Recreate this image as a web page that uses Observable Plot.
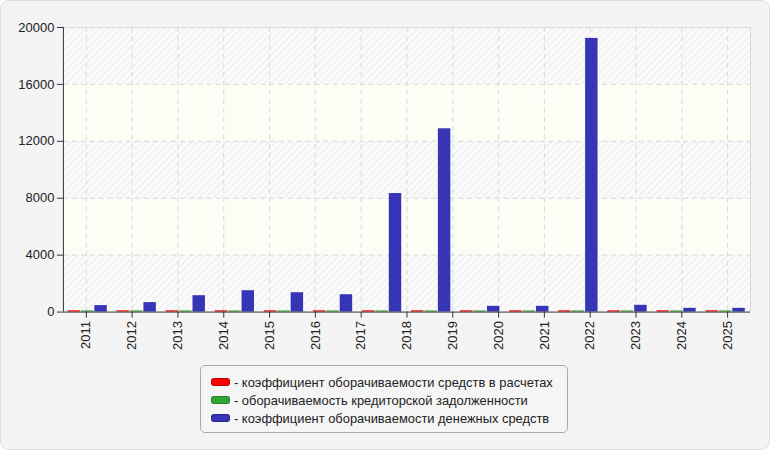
<!DOCTYPE html>
<html><head><meta charset="utf-8">
<script src="https://cdn.jsdelivr.net/npm/d3@7"></script>
<script src="https://cdn.jsdelivr.net/npm/@observablehq/plot@0.6"></script>
<style>
html,body{margin:0;padding:0;background:#fff;}
#card{position:relative;width:770px;height:450px;box-sizing:border-box;background:#f4f4f4;border:1px solid #dedede;border-radius:9px;overflow:hidden;font-family:Arial,"Liberation Sans",sans-serif;}
#chart{position:absolute;left:-1px;top:-1px;}
#legend{position:absolute;left:199px;top:364px;width:368px;height:68px;box-sizing:border-box;border:1px solid #a9a9a9;border-radius:5px;background:#f5f5f5;padding-top:7px;}
.row{display:flex;align-items:center;height:18px;font-size:12.9px;color:#222;padding-left:10px;white-space:nowrap;}
.sw{display:inline-block;width:17px;height:6px;border-radius:3px;margin-right:4px;border:1px solid rgba(0,0,0,0.25);}
</style></head>
<body>
<svg width="0" height="0" style="position:absolute">
  <defs>
    <pattern id="hatch" patternUnits="userSpaceOnUse" width="5" height="5" patternTransform="rotate(45)">
      <rect width="5" height="5" fill="#fbfbfb"/>
      <rect width="2" height="5" fill="#f2f2f2"/>
    </pattern>
  </defs>
</svg>
<div id="card">
  <div id="chart"></div>
  <div id="legend"></div>
</div>
<script>
// tick labels on the x axis (15 labels)
const years = ["2011","2012","2013","2014","2015","2016","2017","2018","2019","2020","2021","2022","2023","2024","2025"];
// series values (14 bar groups)
const receivablesTurnover = [90, 90, 90, 90, 90, 90, 90, 90, 90, 90, 90, 90, 90, 90];
const payablesTurnover    = [80, 80, 80, 80, 80, 80, 80, 80, 80, 80, 80, 80, 80, 80];
const cashTurnover        = [455, 665, 1150, 1500, 1360, 1220, 8330, 12880, 405, 405, 19230, 475, 265, 265];
const seriesNames = [
  "коэффициент оборачиваемости средств в расчетах",
  "оборачиваемость кредиторской задолженности",
  "коэффициент оборачиваемости денежных средств"
];
const seriesColors = ["#ff0000", "#33a433", "#3535b5"];
const yTicks = [0, 4000, 8000, 12000, 16000, 20000];

const nGroups = cashTurnover.length;      // 14
const nLabels = years.length;             // 15
const span = nGroups * nLabels;           // common x extent
const groupW = span / nGroups;            // 15
const labelW = span / nLabels;            // 14
const offs = [[1.4, 5.2], [5.5, 9.3], [9.6, 13.4]];

const rows = [];
[receivablesTurnover, payablesTurnover, cashTurnover].forEach((arr, s) => {
  arr.forEach((v, i) => rows.push({group: i, s, series: seriesNames[s], value: v}));
});
const tickPos = years.map((_, j) => (j + 0.5) * labelW);
const bands = yTicks.slice(0, -1).map((lo, i) => ({lo, hi: yTicks[i + 1], hatched: i % 2 === 0}));

const chart = Plot.plot({
  width: 770, height: 362,
  marginLeft: 63, marginRight: 19, marginTop: 27, marginBottom: 50,
  x: {type: "linear", domain: [0, span], axis: null},
  y: {domain: [0, 20000], axis: null},
  color: {domain: seriesNames, range: seriesColors},
  style: {background: "transparent", fontFamily: "Arial, 'Liberation Sans', sans-serif", fontSize: "13px", color: "#222"},
  marks: [
    Plot.rect(bands.filter(d => d.hatched), {x1: 0, x2: span, y1: "lo", y2: "hi", fill: "url(#hatch)"}),
    Plot.rect(bands.filter(d => !d.hatched), {x1: 0, x2: span, y1: "lo", y2: "hi", fill: "#fcfdf5"}),
    Plot.gridY(yTicks.slice(1, -1), {stroke: "#d9d9d9", strokeOpacity: 1, strokeDasharray: "5,4"}),
    Plot.gridX(tickPos, {stroke: "#d9d9d9", strokeOpacity: 1, strokeDasharray: "5,4"}),
    Plot.ruleY([20000], {stroke: "#dadada"}),
    Plot.ruleX([span], {stroke: "#dadada"}),
    Plot.rect(rows, {
      x1: d => d.group * groupW + offs[d.s][0],
      x2: d => d.group * groupW + offs[d.s][1],
      y1: 0, y2: "value", fill: "series"
    }),
    Plot.ruleX([0], {stroke: "#333"}),
    Plot.ruleY([0], {stroke: "#333"}),
    Plot.axisY(yTicks, {anchor: "left", tickSize: 6, tickPadding: 3, stroke: "#333", fill: "#222", tickFormat: d => String(d)}),
    Plot.axisX(tickPos, {anchor: "bottom", tickSize: 6, tickPadding: 3, tickRotate: -90, stroke: "#333", fill: "#222",
      tickFormat: d => years[Math.round(d / labelW - 0.5)]})
  ]
});
document.getElementById("chart").append(chart);

const legend = document.getElementById("legend");
seriesNames.forEach((name, i) => {
  const r = document.createElement("div");
  r.className = "row";
  const sw = document.createElement("span");
  sw.className = "sw";
  sw.style.background = seriesColors[i];
  r.append(sw, document.createTextNode("- " + name));
  legend.append(r);
});
</script>
</body></html>
